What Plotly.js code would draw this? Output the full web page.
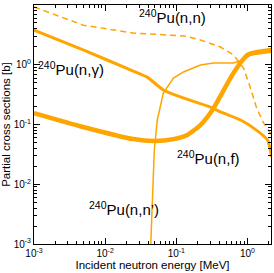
<!DOCTYPE html>
<html><head><meta charset="utf-8">
<script src="https://cdn.plot.ly/plotly-3.0.1.min.js"></script>
<style>body{margin:0;padding:0;background:#fff}#c{width:274px;height:273px}</style>
</head><body><div id="c"></div>
<script>
// Incident neutron energy [MeV] and cross sections [b]
const elasticE = [0.001, 0.0049, 0.0248, 0.13, 0.218, 0.417, 0.635, 0.88, 1.10, 1.34, 1.68, 1.98, 2.18];
const elasticXS = [9.3, 4.6, 3.4, 3.03, 2.6, 1.98, 1.46, 0.88, 0.41, 0.189, 0.106, 0.078, 0.067];

const captureE = [0.001, 0.0049, 0.0248, 0.039, 0.0656, 0.114, 0.301, 0.417, 0.797, 1.22, 1.91, 2.18];
const captureXS = [3.8, 1.77, 0.785, 0.62, 0.378, 0.289, 0.196, 0.162, 0.119, 0.087, 0.055, 0.0286];

const fissionE = [0.001, 0.0049, 0.0248, 0.05, 0.091, 0.143, 0.218, 0.321, 0.635, 1.0, 1.38, 2.18];
const fissionXS = [0.155, 0.091, 0.057, 0.053, 0.057, 0.067, 0.098, 0.175, 0.73, 1.46, 1.63, 1.77];

const inelE = [0.0428, 0.049, 0.054, 0.0656, 0.091, 0.126, 0.218, 0.332, 0.635, 0.88, 1.10, 2.18];
const inelXS = [0.0005, 0.037, 0.119, 0.336, 0.60, 0.757, 0.99, 1.07, 1.07, 1.2, 1.46, 1.63];

const xTickVals = [0.001, 0.01, 0.1, 1];
const xTickText = ['10<sup>-3</sup>', '10<sup>-2</sup>', '10<sup>-1</sup>', '10<sup>0</sup>'];
const yTickVals = [0.001, 0.01, 0.1, 1, 10];
const yTickText = ['10<sup>-3</sup>', '10<sup>-2</sup>', '10<sup>-1</sup>', '10<sup>0</sup>', '10<sup>1</sup>'];

const labelText = ['<sup>240</sup>Pu(n,n)', '<sup>240</sup>Pu(n,γ)', '<sup>240</sup>Pu(n,f)', '<sup>240</sup>Pu(n,n\u2019)'];

const col = '#ffa500';
const traces = [
  {x: elasticE, y: elasticXS, mode: 'lines', line: {color: col, width: 1.5, dash: '6px,4px'}},
  {x: captureE, y: captureXS, mode: 'lines', line: {color: col, width: 3, shape: 'spline', smoothing: 0.5}},
  {x: fissionE, y: fissionXS, mode: 'lines', line: {color: col, width: 4.5, shape: 'spline', smoothing: 0.6}},
  {x: inelE, y: inelXS, mode: 'lines', line: {color: col, width: 1.5}}
];

const axisCommon = {
  type: 'log', ticks: 'inside', ticklen: 6, tickcolor: '#000', tickwidth: 1,
  showline: true, linecolor: '#000', linewidth: 1, mirror: 'allticks',
  showgrid: false, zeroline: false,
  tickfont: {family: 'Liberation Sans, Arial, sans-serif', size: 10, color: '#000'},
  minor: {ticks: 'inside', ticklen: 3, tickcolor: '#000', dtick: 'D1'}
};

const layout = {
  width: 274, height: 273,
  margin: {l: 34, r: 3, t: 5, b: 29},
  paper_bgcolor: '#fff', plot_bgcolor: '#fff',
  showlegend: false,
  xaxis: Object.assign({}, axisCommon, {
    range: [-3, 0.33], tickmode: 'array', tickvals: xTickVals, ticktext: xTickText,
    title: {text: 'Incident neutron energy [MeV]', standoff: 2, font: {family: 'Liberation Sans, Arial, sans-serif', size: 11.5, color: '#000'}}
  }),
  yaxis: Object.assign({}, axisCommon, {
    range: [-3, 1], tickmode: 'array', tickvals: yTickVals, ticktext: yTickText,
    title: {text: 'Partial cross sections [b]', standoff: 2, font: {family: 'Liberation Sans, Arial, sans-serif', size: 11.5, color: '#000'}}
  }),
  annotations: [
    {x: Math.log10(0.028), y: Math.log10(6.3), text: labelText[0]},
    {x: Math.log10(0.00108), y: Math.log10(0.85), text: labelText[1]},
    {x: Math.log10(0.097), y: Math.log10(0.028), text: labelText[2]},
    {x: Math.log10(0.0055), y: Math.log10(0.0040), text: labelText[3]}
  ].map(a => Object.assign(a, {xref: 'x', yref: 'y', xanchor: 'left', yanchor: 'middle', showarrow: false,
    font: {family: 'Liberation Sans, Arial, sans-serif', size: 15, color: '#000'}}))
};

Plotly.newPlot('c', traces, layout, {staticPlot: true, displayModeBar: false});
</script></body></html>
